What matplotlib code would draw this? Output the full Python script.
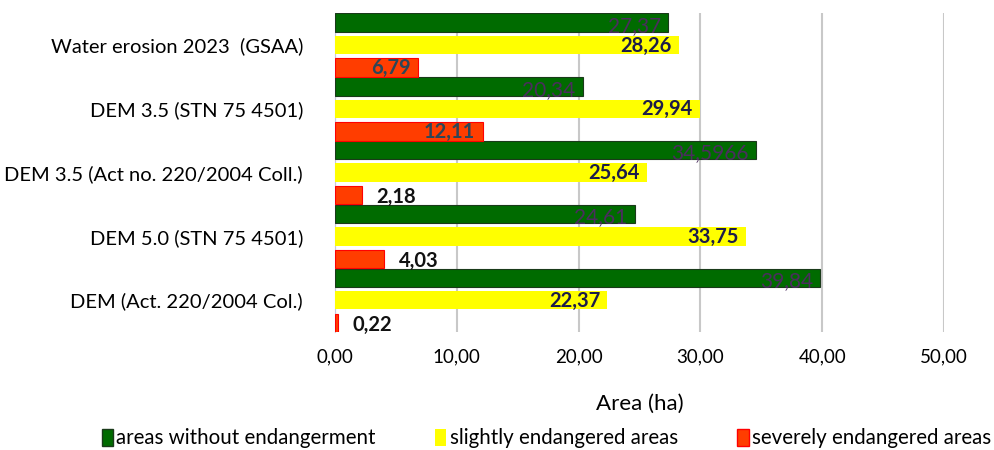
import numpy as np
import matplotlib
matplotlib.use("Agg")
import matplotlib.pyplot as plt
from matplotlib.patches import Patch

plt.rcParams['font.family'] = ['Lato', 'DejaVu Sans']

# categories listed bottom -> top
categories = ['DEM (Act. 220/2004 Col.)', 'DEM 5.0 (STN 75 4501)',
              'DEM 3.5 (Act no. 220/2004 Coll.)', 'DEM 3.5 (STN 75 4501)',
              'Water erosion 2023  (GSAA)']
without = [39.84, 24.61, 34.5966, 20.34, 27.37]
without_lbl = ['39,84', '24,61', '34,5966', '20,34', '27,37']
slight = [22.37, 33.75, 25.64, 29.94, 28.26]
slight_lbl = ['22,37', '33,75', '25,64', '29,94', '28,26']
severe = [0.22, 4.03, 2.18, 12.11, 6.79]
severe_lbl = ['0,22', '4,03', '2,18', '12,11', '6,79']
xticks = [0, 10, 20, 30, 40, 50]

fig = plt.figure(figsize=(9.95, 4.5), dpi=100)
ax = fig.add_axes([0.3367, 0.262, 0.612, 0.709])

y = np.arange(len(categories))
h = 0.29
ax.barh(y + 0.35, without, height=h, color='#006B00', edgecolor='#1a3a1a', linewidth=0.8, zorder=3)
ax.barh(y, slight, height=h, color='#FFFF00', edgecolor='none', zorder=3)
ax.barh(y - 0.355, severe, height=h, color='#FF3D00', edgecolor='#FF0000', linewidth=0.8, zorder=3)

pad = 0.012 * 50
for i in range(len(categories)):
    ax.text(without[i] - pad, y[i] + 0.30, without_lbl[i], ha='right', va='center',
            fontsize=15, color='#4b2d5e', zorder=4)
    ax.text(slight[i] - pad, y[i] - 0.01, slight_lbl[i], ha='right', va='center',
            fontsize=14.5, fontweight='bold', color='#1c1c4a', zorder=4)
    if severe[i] > 6:
        ax.text(severe[i] - pad, y[i] - 0.36, severe_lbl[i], ha='right', va='center',
                fontsize=14.5, fontweight='bold', color='#2d4658', zorder=4)
    else:
        ax.text(severe[i] + 1.2, y[i] - 0.39, severe_lbl[i], ha='left', va='center',
                fontsize=14.5, fontweight='bold', color='#111111', zorder=4)

ax.set_xlim(0, 50)
ax.set_ylim(-0.5, 4.5)
ax.set_yticks(y)
ax.set_yticklabels(categories, fontsize=14.5)
ax.set_xticks(xticks)
ax.set_xticklabels([f'{v:.2f}'.replace('.', ',') for v in xticks], fontsize=13.5)
ax.tick_params(axis='y', length=0, pad=23)
ax.tick_params(axis='x', length=0, pad=12)
ax.grid(axis='x', color='#C8C8C8', linewidth=1.5, zorder=0)
for s in ['top', 'right', 'bottom']:
    ax.spines[s].set_visible(False)
ax.spines['left'].set_color('#C8C8D8')
ax.set_xlabel('Area (ha)', fontsize=16, labelpad=20)

handles = [Patch(facecolor='#006B00', edgecolor='#1a3a1a'),
           Patch(facecolor='#FFFF00', edgecolor='none'),
           Patch(facecolor='#FF3D00', edgecolor='#FF0000')]
fig.legend(handles, ['areas without endangerment', 'slightly endangered areas',
                     'severely endangered areas'],
           loc='center', bbox_to_anchor=(0.549, 0.026), ncol=3, frameon=False,
           fontsize=14.8, handlelength=0.55, handleheight=0.9, handletextpad=0.15,
           columnspacing=2.9)

plt.savefig('out.png', dpi=100, facecolor='white')
